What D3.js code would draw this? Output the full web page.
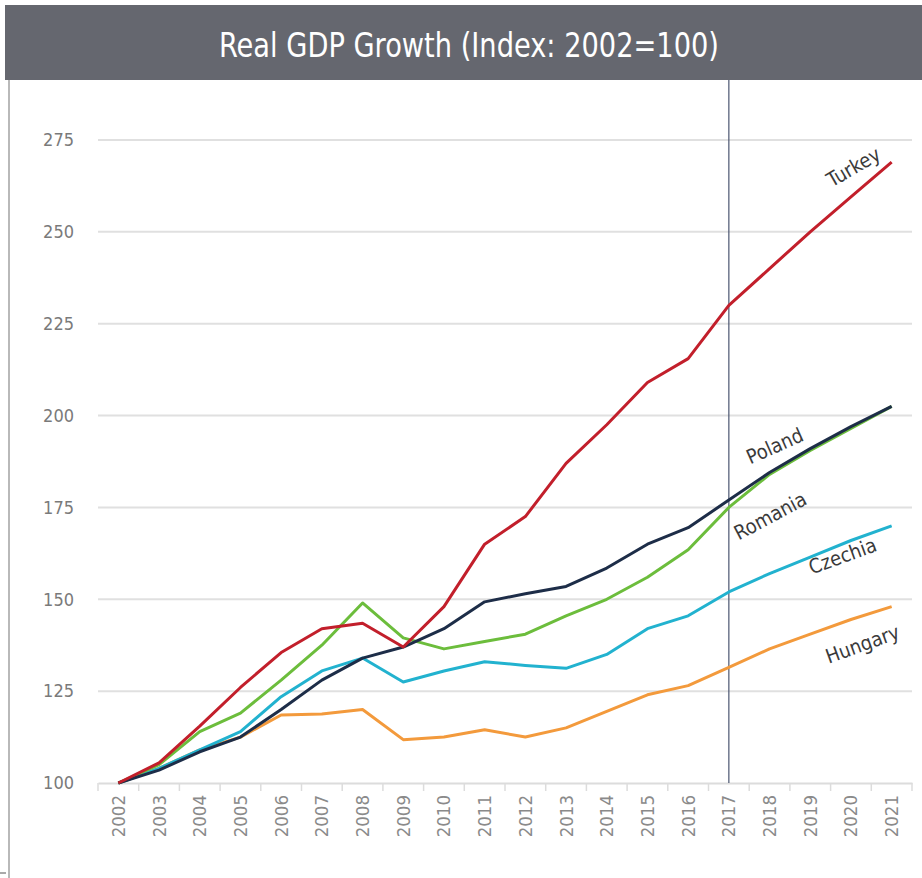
<!DOCTYPE html>
<html>
<head>
<meta charset="utf-8">
<script src="https://cdn.jsdelivr.net/npm/d3@7"></script>
<style>
  body { margin: 0; background: #fff; }
  svg { display: block; font-family: "DejaVu Sans Condensed", "DejaVu Sans", sans-serif; }
</style>
</head>
<body>
<svg id="chart" width="922" height="878"></svg>
<script>
let years = ["2002", "2003", "2004", "2005", "2006", "2007", "2008", "2009", "2010", "2011",
    "2012", "2013", "2014", "2015", "2016", "2017", "2018", "2019", "2020", "2021"];
let yTicks = [100, 125, 150, 175, 200, 225, 250, 275];

let turkey  = [100, 105.5, 115.5, 126, 135.5, 142, 143.5, 137, 148, 165, 172.5, 187, 197.5, 209, 215.5, 230, 240, 250, 259.5, 269];
let poland  = [100, 103.5, 108.5, 112.5, 120, 128, 134, 137, 142, 149.3, 151.5, 153.5, 158.5, 165, 169.5, 177, 184.5, 191, 197, 202.5];
let romania = [100, 105, 114, 119, 128, 137.5, 149, 139.5, 136.5, 138.5, 140.5, 145.5, 150, 156, 163.5, 175, 184, 190.5, 196.5, 202.5];
let czechia = [100, 104, 109, 114, 123.5, 130.5, 134, 127.5, 130.5, 133, 132, 131.2, 135, 142, 145.5, 152, 157, 161.5, 166, 170];
let hungary = [100, 104, 109, 112.5, 118.5, 118.8, 120, 111.8, 112.5, 114.5, 112.5, 115, 119.5, 124, 126.5, 131.5, 136.5, 140.5, 144.5, 148];

let series = [
    { name: "Hungary", values: hungary, color: "#f39a3c" },
    { name: "Czechia", values: czechia, color: "#22b2cf" },
    { name: "Romania", values: romania, color: "#6cbd3c" },
    { name: "Poland",  values: poland,  color: "#1d2d48" },
    { name: "Turkey",  values: turkey,  color: "#c21f2b" }
];

// label placement (year, offset value, angle)
let labels = [
    { name: "Turkey",  year: "2020", v: 266, dx: 6,  angle: -30 },
    { name: "Poland",  year: "2018", v: 190, dx: 8,  angle: -24 },
    { name: "Romania", year: "2018", v: 171, dx: 4,  angle: -28 },
    { name: "Czechia", year: "2020", v: 160, dx: -6, angle: -20 },
    { name: "Hungary", year: "2020", v: 136, dx: 14, angle: -20 }
];

let svg = d3.select("#chart");
let width = +svg.attr("width");
let height = +svg.attr("height");

// title bar
svg.append("rect")
    .attr("x", 5).attr("y", 5)
    .attr("width", width - 5).attr("height", 75)
    .attr("fill", "#65676f");
svg.append("text")
    .attr("x", 469).attr("y", 57)
    .attr("text-anchor", "middle")
    .attr("fill", "#fff")
    .attr("font-size", 34)
    .attr("textLength", 500)
    .attr("lengthAdjust", "spacingAndGlyphs")
    .text("Real GDP Growth (Index: 2002=100)");

// left panel border
svg.append("line")
    .attr("x1", 9).attr("x2", 9)
    .attr("y1", 80).attr("y2", height)
    .attr("stroke", "#b9b9b9").attr("stroke-width", 2);
svg.append("line")
    .attr("x1", 0).attr("x2", 6)
    .attr("y1", 873).attr("y2", 873)
    .attr("stroke", "#555").attr("stroke-width", 1);

let x = d3.scaleBand()
    .domain(years)
    .range([98, 912]);

let y = d3.scaleLinear()
    .domain([100, 275])
    .range([783, 140]);

let cx = function (yr) { return x(yr) + x.bandwidth() / 2; };

// gridlines
svg.append("g")
    .selectAll("line")
    .data(yTicks.slice(1))
    .join("line")
    .attr("x1", 98).attr("x2", 912)
    .attr("y1", function (d) { return y(d); })
    .attr("y2", function (d) { return y(d); })
    .attr("stroke", "#e0e0e0")
    .attr("stroke-width", 2);

// y axis labels
let yAxis = svg.append("g")
    .attr("transform", "translate(74,0)")
    .call(d3.axisLeft(y).tickValues(yTicks).tickSize(0).tickPadding(0));
yAxis.select(".domain").remove();
yAxis.selectAll("text")
    .attr("fill", "#7a7a7a")
    .attr("font-size", 18)
    .attr("font-family", "DejaVu Sans Condensed, sans-serif");

// x axis
let xAxis = svg.append("g")
    .attr("transform", "translate(0,783)")
    .call(d3.axisBottom(x).tickSize(0).tickPadding(0));
xAxis.select(".domain")
    .attr("stroke", "#dcdcdc").attr("stroke-width", 2);
xAxis.selectAll("text")
    .attr("fill", "#8a8a8a")
    .attr("font-size", 18.5)
    .attr("font-family", "DejaVu Sans Condensed, sans-serif")
    .attr("text-anchor", "end")
    .attr("dy", "0.35em")
    .attr("transform", "translate(0,12) rotate(-90)");

// band boundary ticks
svg.append("g")
    .selectAll("line")
    .data(years.concat(["end"]))
    .join("line")
    .attr("x1", function (d, i) { return 98 + i * x.bandwidth(); })
    .attr("x2", function (d, i) { return 98 + i * x.bandwidth(); })
    .attr("y1", 783).attr("y2", 791)
    .attr("stroke", "#dcdcdc").attr("stroke-width", 1.5);

// 2017 marker line
svg.append("line")
    .attr("x1", cx("2017")).attr("x2", cx("2017"))
    .attr("y1", 80).attr("y2", 783)
    .attr("stroke", "#4b5670").attr("stroke-width", 1.2);

let line = d3.line()
    .x(function (d, i) { return cx(years[i]); })
    .y(function (d) { return y(d); });

svg.append("g")
    .selectAll("path")
    .data(series)
    .join("path")
    .attr("d", function (d) { return line(d.values); })
    .attr("fill", "none")
    .attr("stroke", function (d) { return d.color; })
    .attr("stroke-width", 3)
    .attr("stroke-linejoin", "round");

svg.append("g")
    .selectAll("text")
    .data(labels)
    .join("text")
    .attr("transform", function (d) {
        return "translate(" + (cx(d.year) + d.dx) + "," + y(d.v) + ") rotate(" + d.angle + ")";
    })
    .attr("text-anchor", "middle")
    .attr("fill", "#3a3a3a")
    .attr("font-size", 20)
    .attr("font-family", "DejaVu Sans Condensed, sans-serif")
    .text(function (d) { return d.name; });
</script>
</body>
</html>
